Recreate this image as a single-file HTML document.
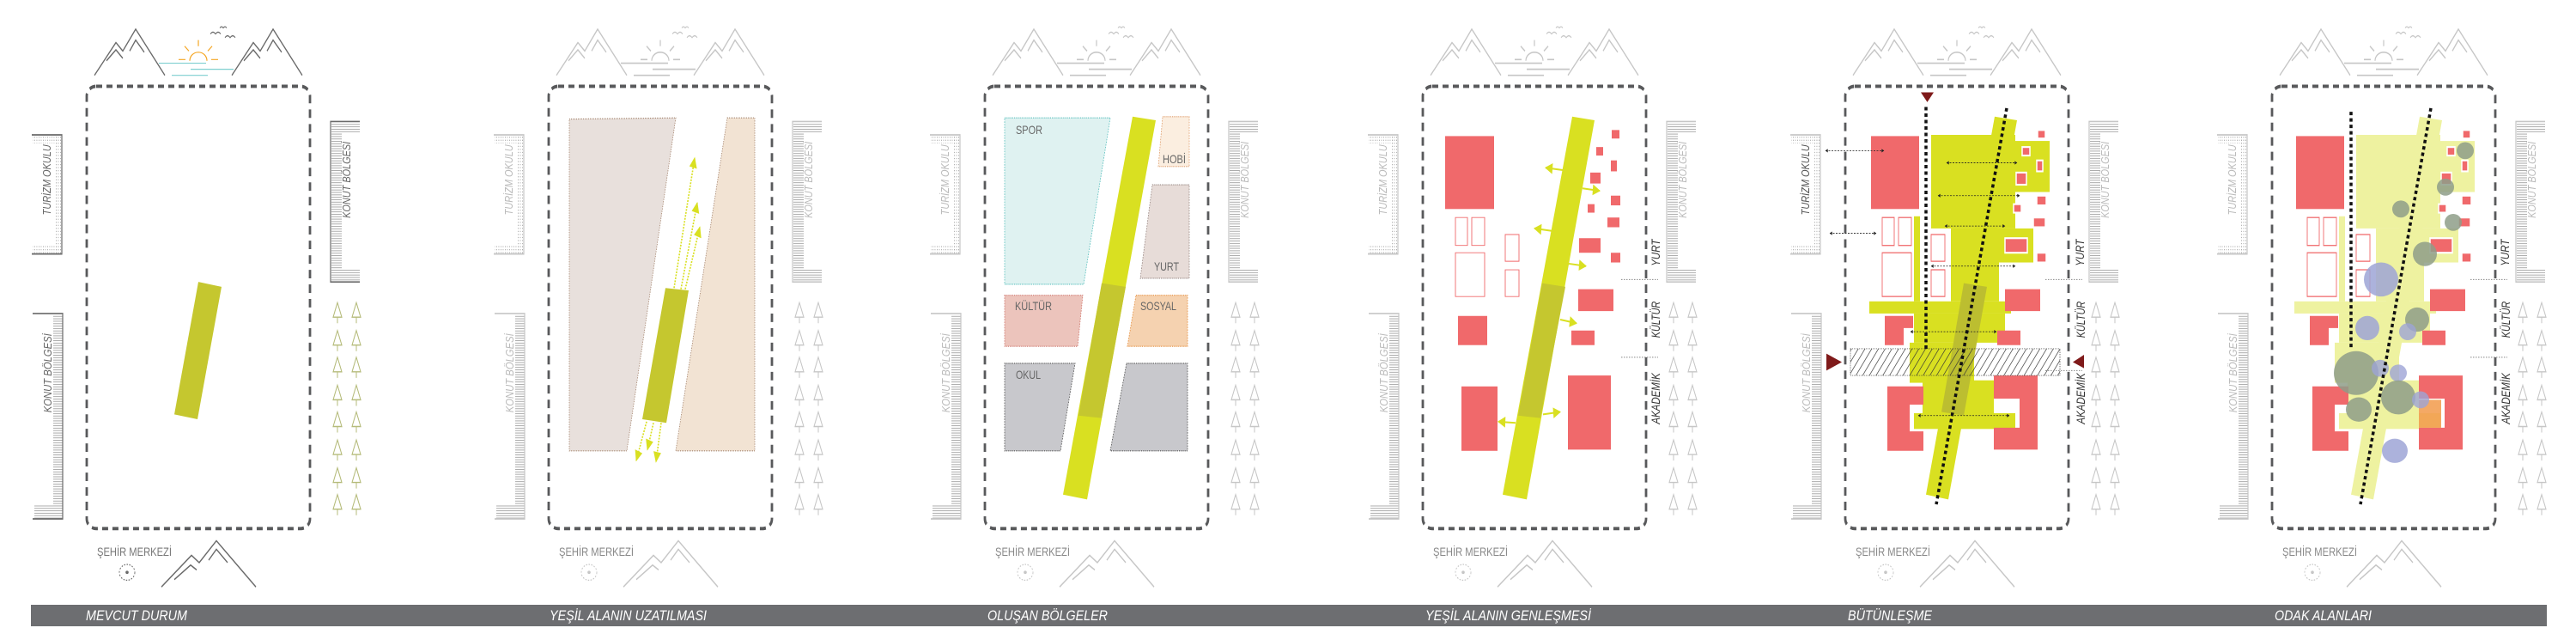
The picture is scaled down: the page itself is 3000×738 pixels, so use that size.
<!DOCTYPE html>
<html><head><meta charset="utf-8"><style>
html,body{margin:0;padding:0;background:#fff;}
svg{display:block;}
text{font-family:"Liberation Sans",sans-serif;}
.sc line,.sc polyline,.sc path,.sc rect,.sc circle{vector-effect:non-scaling-stroke;}
</style></head><body>
<svg width="3000" height="738" viewBox="0 0 3000 738" xmlns="http://www.w3.org/2000/svg">
<defs>
<pattern id="hl" width="3" height="2" patternUnits="userSpaceOnUse"><rect width="3" height="0.7" fill="#aaa"/></pattern>
<pattern id="dots" width="2.5" height="2.5" patternUnits="userSpaceOnUse"><rect width="0.9" height="0.9" fill="#aaa"/></pattern>
<pattern id="diag" width="6" height="6" patternUnits="userSpaceOnUse" patternTransform="rotate(-50)"><rect width="6" height="0.6" fill="#333"/></pattern>
<marker id="ya" viewBox="0 0 10 10" refX="9" refY="5" markerWidth="13" markerHeight="9" markerUnits="userSpaceOnUse" orient="auto"><path d="M0,0 L10,5 L0,10 z" fill="#d9e021"/></marker>
<marker id="ba" viewBox="0 0 10 10" refX="9" refY="5" markerWidth="5" markerHeight="3" markerUnits="userSpaceOnUse" orient="auto-start-reverse"><path d="M0,0 L10,5 L0,10 z" fill="#222"/></marker>
<path id="tr" d="M0,-8 L5,4 L-5,4 Z M0,4 V9" fill="none" stroke="currentColor" stroke-width="1"/>
<g id="c" fill="none" stroke="currentColor" stroke-width="1.2">
 <polyline points="110,62 135,35 143,42 158,24 192,62"/>
 <polyline points="124,50 135,41 143,48"/>
 <polyline points="151,42 158,33 168,43"/>
 <polyline points="270,62 295,35 303,42 318,24 352,62"/>
 <polyline points="284,50 295,41 303,48"/>
 <polyline points="311,42 318,33 328,43"/>
 <polyline points="188,483 223,457 232,463 252,445 298,483"/>
 <polyline points="203,477 222,465 229,469"/>
 <polyline points="243,461 252,452 265,463"/>
 <path d="M245,28 q3,-3 6,0 q3,-3 6,0 M262,31 q3,-3 6,0 q3,-3 6,0 M256,23 q2,-2 4,0 q2,-2 4,0" stroke-width="0.9"/>
 <ellipse cx="148" cy="471" rx="9" ry="6.5" stroke-dasharray="1.5 1.5" stroke-width="0.9"/>
 <ellipse cx="148" cy="471" rx="1.8" ry="1.3" fill="currentColor" stroke="none"/>
 <rect x="38" y="112" width="34" height="6" fill="url(#dots)" stroke="none"/>
 <rect x="64" y="112" width="8" height="97" fill="url(#dots)" stroke="none"/>
 <rect x="38" y="202" width="34" height="7" fill="url(#dots)" stroke="none"/>
 <path d="M37,111 H72 V209 H37"/>
 <rect x="62" y="259" width="11" height="168" fill="url(#hl)" stroke="none"/>
 <rect x="40" y="416" width="22" height="11" fill="url(#hl)" stroke="none"/>
 <path d="M38,258 H73 V427 H38"/>
 <rect x="386" y="101" width="12" height="131" fill="url(#hl)" stroke="none"/>
 <rect x="398" y="101" width="21" height="8" fill="url(#hl)" stroke="none"/>
 <rect x="398" y="222" width="21" height="10" fill="url(#hl)" stroke="none"/>
 <path d="M419,100 H385 V232 H419"/>
</g>
<g id="s" fill="none" stroke="currentColor" stroke-width="1.2">
 <path d="M221,50 A10,7 0 0 1 241,50"/>
 <path d="M231,33 V38 M215,38 L220,42 M247,38 L242,42 M208,49 H216 M246,49 H254"/>
 <path d="M185,52 H240 M222,57 H272 M200,62 H242"/>
</g>
<g id="t">
 <use href="#tr" x="393" y="257"/><use href="#tr" x="415" y="257"/>
 <use href="#tr" x="393" y="280"/><use href="#tr" x="415" y="280"/>
 <use href="#tr" x="393" y="302"/><use href="#tr" x="415" y="302"/>
 <use href="#tr" x="393" y="325"/><use href="#tr" x="415" y="325"/>
 <use href="#tr" x="393" y="347"/><use href="#tr" x="415" y="347"/>
 <use href="#tr" x="393" y="370"/><use href="#tr" x="415" y="370"/>
 <use href="#tr" x="393" y="393"/><use href="#tr" x="415" y="393"/>
 <use href="#tr" x="393" y="415"/><use href="#tr" x="415" y="415"/>
</g>
<rect id="fr" x="101" y="71" width="260" height="364" rx="11" ry="8" fill="none" stroke="#58595b" stroke-width="2.8" stroke-dasharray="7 5"/>
<g id="site">
 <polygon points="2323,96 2349,99 2269,411 2243,407" fill="currentColor"/>
 <rect x="2249" y="111" width="98" height="77" fill="currentColor"/>
 <rect x="2347" y="116" width="40" height="42" fill="currentColor"/>
 <rect x="2328" y="188" width="40" height="28" fill="currentColor"/>
 <rect x="2272" y="188" width="56" height="60" fill="currentColor"/>
 <rect x="2229" y="178" width="7" height="70" fill="currentColor"/>
 <rect x="2177" y="248" width="165" height="10" fill="currentColor"/>
 <rect x="2229" y="258" width="106" height="24" fill="currentColor"/>
 <rect x="2224" y="282" width="75" height="33" fill="currentColor"/>
 <rect x="2239" y="313" width="83" height="29" fill="currentColor"/>
 <rect x="2229" y="340" width="118" height="13" fill="currentColor"/>
 <g fill="#f0696b">
  <rect x="2179" y="112" width="56" height="60"/>
  <polygon points="2195,260 2228,260 2228,270 2217,270 2217,284 2195,284"/>
  <polygon points="2198,318 2240,318 2240,333 2224,333 2224,355 2240,355 2240,371 2198,371"/>
  <polygon points="2322,309 2373,309 2373,370 2322,370 2322,352 2352,352 2352,328 2322,328"/>
  <rect x="2335" y="238" width="41" height="18"/>
  <rect x="2326" y="272" width="27" height="12"/>
  <rect x="2335" y="196" width="26" height="12" stroke="#fff" stroke-width="1.5"/>
  <g stroke="#fff" stroke-width="1.5">
  <rect x="2373" y="107" width="9" height="7"/><rect x="2355" y="121" width="9" height="7"/>
  <rect x="2372" y="132" width="7" height="9"/><rect x="2348" y="142" width="12" height="10"/>
  <rect x="2372" y="161" width="11" height="8"/><rect x="2345" y="168" width="9" height="7"/>
  <rect x="2368" y="179" width="14" height="8"/><rect x="2372" y="208" width="11" height="8"/>
  </g>
 </g>
 <g fill="#fff" stroke="#f0696b" stroke-width="0.9">
  <rect x="2192" y="179" width="14" height="23"/><rect x="2211" y="179" width="15" height="23"/>
  <rect x="2192" y="208" width="34" height="36"/>
  <rect x="2249" y="193" width="16" height="22"/><rect x="2249" y="222" width="16" height="22"/>
 </g>
</g>
</defs>

<!-- bottom bar -->
<rect x="36" y="704" width="2930" height="25" fill="#6d6e71"/>
<g font-size="17" font-style="italic" fill="#fff" lengthAdjust="spacingAndGlyphs">
<text x="100" y="722" textLength="118" lengthAdjust="spacingAndGlyphs">MEVCUT DURUM</text>
<text x="640" y="722" textLength="183" lengthAdjust="spacingAndGlyphs">YEŞİL ALANIN UZATILMASI</text>
<text x="1150" y="722" textLength="140" lengthAdjust="spacingAndGlyphs">OLUŞAN BÖLGELER</text>
<text x="1660" y="722" textLength="193" lengthAdjust="spacingAndGlyphs">YEŞİL ALANIN GENLEŞMESİ</text>
<text x="2152" y="722" textLength="98" lengthAdjust="spacingAndGlyphs">BÜTÜNLEŞME</text>
<text x="2649" y="722" textLength="113" lengthAdjust="spacingAndGlyphs">ODAK ALANLARI</text>
</g>

<g class="sc" transform="scale(1,1.4145)">
<!-- common per panel -->
<use href="#c" style="color:#6a6a6a"/>
<use href="#t" style="color:#b5bb7a"/>
<g fill="none" stroke-width="1.2">
 <path d="M221,50 A10,7 0 0 1 241,50 M231,33 V38 M215,38 L220,42 M247,38 L242,42 M208,49 H216 M246,49 H254" stroke="#f5a623"/>
 <path d="M185,52 H240 M222,57 H272 M200,62 H242" stroke="#7fcfd0"/>
</g>
<g style="color:#c6c6c6">
<use href="#c" x="538"/><use href="#t" x="538"/><use href="#s" x="538"/>
<use href="#c" x="1046"/><use href="#t" x="1046"/><use href="#s" x="1046"/>
<use href="#c" x="1556"/><use href="#t" x="1556"/><use href="#s" x="1556"/>
<use href="#c" x="2048"/><use href="#t" x="2048"/><use href="#s" x="2048"/>
<use href="#c" x="2545"/><use href="#t" x="2545"/><use href="#s" x="2545"/>
</g>
<use href="#fr"/><use href="#fr" x="538"/><use href="#fr" x="1046"/><use href="#fr" x="1556"/><use href="#fr" x="2048"/><use href="#fr" x="2545"/>

<!-- side texts -->
<g font-size="13" font-style="italic" text-anchor="middle">
 <text transform="translate(59,148) rotate(-90)" fill="#666" textLength="58" lengthAdjust="spacingAndGlyphs">TURİZM OKULU</text>
 <text transform="translate(60,307) rotate(-90)" fill="#666" textLength="65" lengthAdjust="spacingAndGlyphs">KONUT BÖLGESİ</text>
 <text transform="translate(408,148) rotate(-90)" fill="#666" textLength="63" lengthAdjust="spacingAndGlyphs">KONUT BÖLGESİ</text>
 <text transform="translate(597,148) rotate(-90)" fill="#bbb" textLength="58" lengthAdjust="spacingAndGlyphs">TURİZM OKULU</text>
 <text transform="translate(598,307) rotate(-90)" fill="#bbb" textLength="65" lengthAdjust="spacingAndGlyphs">KONUT BÖLGESİ</text>
 <text transform="translate(946,148) rotate(-90)" fill="#bbb" textLength="63" lengthAdjust="spacingAndGlyphs">KONUT BÖLGESİ</text>
 <text transform="translate(1105,148) rotate(-90)" fill="#bbb" textLength="58" lengthAdjust="spacingAndGlyphs">TURİZM OKULU</text>
 <text transform="translate(1106,307) rotate(-90)" fill="#bbb" textLength="65" lengthAdjust="spacingAndGlyphs">KONUT BÖLGESİ</text>
 <text transform="translate(1454,148) rotate(-90)" fill="#bbb" textLength="63" lengthAdjust="spacingAndGlyphs">KONUT BÖLGESİ</text>
 <text transform="translate(1615,148) rotate(-90)" fill="#bbb" textLength="58" lengthAdjust="spacingAndGlyphs">TURİZM OKULU</text>
 <text transform="translate(1616,307) rotate(-90)" fill="#bbb" textLength="65" lengthAdjust="spacingAndGlyphs">KONUT BÖLGESİ</text>
 <text transform="translate(1964,148) rotate(-90)" fill="#bbb" textLength="63" lengthAdjust="spacingAndGlyphs">KONUT BÖLGESİ</text>
 <text transform="translate(2107,148) rotate(-90)" fill="#555" textLength="58" lengthAdjust="spacingAndGlyphs">TURİZM OKULU</text>
 <text transform="translate(2108,307) rotate(-90)" fill="#bbb" textLength="65" lengthAdjust="spacingAndGlyphs">KONUT BÖLGESİ</text>
 <text transform="translate(2456,148) rotate(-90)" fill="#bbb" textLength="63" lengthAdjust="spacingAndGlyphs">KONUT BÖLGESİ</text>
 <text transform="translate(2604,148) rotate(-90)" fill="#bbb" textLength="58" lengthAdjust="spacingAndGlyphs">TURİZM OKULU</text>
 <text transform="translate(2605,307) rotate(-90)" fill="#bbb" textLength="65" lengthAdjust="spacingAndGlyphs">KONUT BÖLGESİ</text>
 <text transform="translate(2953,148) rotate(-90)" fill="#bbb" textLength="63" lengthAdjust="spacingAndGlyphs">KONUT BÖLGESİ</text>
</g>

<!-- P1 -->
<polygon points="231,232 258,236 230,345 203,341" fill="#c5c72f"/>

<!-- P2 -->
<polygon points="663,98 787,97 730,371 663,371" fill="#e8e0dc" stroke="#a5856f" stroke-width="0.8" stroke-dasharray="1 1"/>
<polygon points="847,97 879,97 879,371 787,371" fill="#f2e3d3" stroke="#a5856f" stroke-width="0.8" stroke-dasharray="1 1"/>
<polygon points="775,237 802,239 776,348 748,345" fill="#c5c72f"/>
<g stroke="#d9e021" stroke-width="1.6" stroke-dasharray="2 1.5" fill="none">
 <line x1="785" y1="237" x2="809" y2="130" marker-end="url(#ya)"/>
 <line x1="793" y1="238" x2="812" y2="167" marker-end="url(#ya)"/>
 <line x1="798" y1="238" x2="815" y2="187" marker-end="url(#ya)"/>
 <line x1="753" y1="347" x2="741" y2="379" marker-end="url(#ya)"/>
 <line x1="761" y1="348" x2="754" y2="370" marker-end="url(#ya)"/>
 <line x1="770" y1="348" x2="764" y2="380" marker-end="url(#ya)"/>
</g>

<!-- P3 -->
<g stroke-width="0.8" stroke-dasharray="1.2 1">
<polygon points="1170,97 1293,97 1262,234 1170,234" fill="#dff2f1" stroke="#5bc0be"/>
<polygon points="1354,96 1385,96 1385,137 1349,137" fill="#fbeee0" stroke="#e0a070"/>
<polygon points="1342,152 1385,152 1385,229 1328,229" fill="#e7dcd8" stroke="#9a8a86"/>
<polygon points="1170,243 1261,243 1255,285 1170,285" fill="#ecc4bc" stroke="#d07a70"/>
<polygon points="1323,243 1383,243 1383,285 1313,285" fill="#f5d2b0" stroke="#e69040"/>
<polygon points="1170,299 1252,299 1235,371 1170,371" fill="#c8c8cc" stroke="#555"/>
<polygon points="1312,299 1383,299 1383,371 1293,371" fill="#c8c8cc" stroke="#555"/>
</g>
<polygon points="1319,96 1346,99 1266,411 1238,407" fill="#d9e021"/>
<polygon points="1283,233 1311,236 1283,344 1256,342" fill="#c5c72f"/>

<!-- P4 -->
<polygon points="1831,96 1857,99 1778,411 1750,407" fill="#d9e021"/>
<polygon points="1796,233 1823,236 1794,344 1768,342" fill="#c5c72f"/>
<g fill="#f0696b">
 <rect x="1683" y="112" width="57" height="60"/>
 <rect x="1698" y="260" width="34" height="24"/>
 <rect x="1702" y="318" width="42" height="53"/>
 <rect x="1826" y="309" width="50" height="61"/>
 <rect x="1838" y="238" width="41" height="18"/>
 <rect x="1830" y="272" width="27" height="12"/>
 <rect x="1839" y="196" width="25" height="12"/>
 <rect x="1877" y="107" width="9" height="7"/><rect x="1859" y="121" width="8" height="7"/>
 <rect x="1876" y="132" width="7" height="9"/><rect x="1852" y="142" width="12" height="9"/>
 <rect x="1876" y="161" width="11" height="8"/><rect x="1849" y="168" width="8" height="7"/>
 <rect x="1872" y="179" width="14" height="8"/><rect x="1876" y="208" width="11" height="8"/>
</g>
<g fill="#fff" stroke="#f0696b" stroke-width="0.9">
 <rect x="1695" y="179" width="14" height="23"/><rect x="1714" y="179" width="15" height="23"/>
 <rect x="1695" y="208" width="34" height="36"/>
 <rect x="1753" y="193" width="16" height="22"/><rect x="1753" y="222" width="16" height="22"/>
</g>
<g stroke="#d9e021" stroke-width="2" fill="none">
 <line x1="1820" y1="140" x2="1800" y2="138" marker-end="url(#ya)"/>
 <line x1="1843" y1="155" x2="1863" y2="157" marker-end="url(#ya)"/>
 <line x1="1807" y1="190" x2="1787" y2="188" marker-end="url(#ya)"/>
 <line x1="1827" y1="217" x2="1847" y2="219" marker-end="url(#ya)"/>
 <line x1="1817" y1="263" x2="1836" y2="266" marker-end="url(#ya)"/>
 <line x1="1765" y1="348" x2="1745" y2="347" marker-end="url(#ya)"/>
 <line x1="1797" y1="341" x2="1817" y2="339" marker-end="url(#ya)"/>
</g>

<!-- P5 -->
<use href="#site" style="color:#d9e021"/>
<polygon points="2287,233 2314,236 2287,342 2261,339" fill="#a8a63a" opacity="0.6"/>
<rect x="2155" y="287" width="244" height="22" fill="url(#diag)" stroke="#333" stroke-width="0.7" stroke-dasharray="1 1"/>
<g stroke="#111" stroke-width="3.5" stroke-dasharray="4 3.5" fill="none">
 <line x1="2243" y1="88" x2="2243" y2="287"/>
 <line x1="2337" y1="89" x2="2255" y2="415"/>
</g>
<g stroke="#222" stroke-width="0.8" stroke-dasharray="2 1.5">
 <line x1="2126" y1="124" x2="2194" y2="124" marker-start="url(#ba)" marker-end="url(#ba)"/>
 <line x1="2131" y1="192" x2="2185" y2="192" marker-start="url(#ba)" marker-end="url(#ba)"/>
 <line x1="2267" y1="134" x2="2349" y2="134" marker-start="url(#ba)" marker-end="url(#ba)"/>
 <line x1="2257" y1="161" x2="2352" y2="161" marker-start="url(#ba)" marker-end="url(#ba)"/>
 <line x1="2265" y1="186" x2="2335" y2="186" marker-start="url(#ba)" marker-end="url(#ba)"/>
 <line x1="2249" y1="219" x2="2347" y2="219" marker-start="url(#ba)" marker-end="url(#ba)"/>
 <line x1="2225" y1="273" x2="2325" y2="273" marker-start="url(#ba)" marker-end="url(#ba)"/>
 <line x1="2234" y1="342" x2="2340" y2="342" marker-start="url(#ba)" marker-end="url(#ba)"/>
</g>
<g fill="#7f1a1a">
 <polygon points="2237,76 2252,76 2244.5,84"/>
 <polygon points="2127,291 2127,305 2145,298"/>
 <polygon points="2427,292 2427,303 2414,298"/>
</g>

<!-- P6 -->
<g transform="translate(495,0)"><use href="#site" style="color:#eef2a0"/></g>
<g>
 <ellipse cx="2871" cy="124" rx="10" ry="7" fill="#8e9e88" opacity="0.85"/>
 <ellipse cx="2848" cy="154" rx="10" ry="7" fill="#8e9e88" opacity="0.85"/>
 <ellipse cx="2796" cy="172" rx="10" ry="7" fill="#8e9e88" opacity="0.85"/>
 <ellipse cx="2857" cy="183" rx="10" ry="7" fill="#8e9e88" opacity="0.85"/>
 <ellipse cx="2824" cy="209" rx="14" ry="10" fill="#8e9e88" opacity="0.85"/>
 <ellipse cx="2773" cy="230" rx="20" ry="14" fill="#9ea4d6" opacity="0.85"/>
 <ellipse cx="2757" cy="270" rx="14" ry="10" fill="#9ea4d6" opacity="0.85"/>
 <ellipse cx="2815" cy="263" rx="14" ry="10" fill="#8e9e88" opacity="0.85"/>
 <ellipse cx="2804" cy="273" rx="10" ry="7" fill="#9ea4d6" opacity="0.8"/>
 <ellipse cx="2744" cy="307" rx="26" ry="18" fill="#8e9e88" opacity="0.85"/>
 <ellipse cx="2772" cy="303" rx="10" ry="7" fill="#9ea4d6" opacity="0.8"/>
 <ellipse cx="2793" cy="307" rx="10" ry="7" fill="#9ea4d6" opacity="0.8"/>
 <ellipse cx="2793" cy="327" rx="20" ry="14" fill="#8e9e88" opacity="0.85"/>
 <ellipse cx="2747" cy="337" rx="15" ry="10" fill="#8e9e88" opacity="0.85"/>
 <rect x="2817" y="329" width="26" height="23" fill="#f29a4a" opacity="0.85"/>
 <ellipse cx="2819" cy="329" rx="10" ry="7" fill="#9ea4d6" opacity="0.8"/>
 <ellipse cx="2789" cy="371" rx="15" ry="10" fill="#9ea4d6" opacity="0.85"/>
</g>
<g stroke="#111" stroke-width="3.5" stroke-dasharray="4 3.5" fill="none">
 <line x1="2738" y1="92" x2="2738" y2="287"/>
 <line x1="2831" y1="89" x2="2749" y2="415"/>
</g>

<!-- zone labels P4-P6 -->
<g stroke="#888" stroke-width="1" stroke-dasharray="1.5 1.5">
 <line x1="1888" y1="230" x2="1931" y2="230"/><line x1="1888" y1="294" x2="1931" y2="294"/>
 <line x1="2382" y1="230" x2="2425" y2="230"/><line x1="2382" y1="305" x2="2425" y2="305"/>
 <line x1="2877" y1="230" x2="2920" y2="230"/><line x1="2877" y1="294" x2="2920" y2="294"/>
</g>
<g font-size="14" font-style="italic" fill="#333" text-anchor="middle">
 <text transform="translate(1933,208) rotate(-90)" textLength="22" lengthAdjust="spacingAndGlyphs">YURT</text>
 <text transform="translate(1933,263) rotate(-90)" textLength="30" lengthAdjust="spacingAndGlyphs">KÜLTÜR</text>
 <text transform="translate(1933,328) rotate(-90)" textLength="42" lengthAdjust="spacingAndGlyphs">AKADEMİK</text>
 <text transform="translate(2427,208) rotate(-90)" textLength="22" lengthAdjust="spacingAndGlyphs">YURT</text>
 <text transform="translate(2428,263) rotate(-90)" textLength="30" lengthAdjust="spacingAndGlyphs">KÜLTÜR</text>
 <text transform="translate(2428,328) rotate(-90)" textLength="42" lengthAdjust="spacingAndGlyphs">AKADEMİK</text>
 <text transform="translate(2922,208) rotate(-90)" textLength="22" lengthAdjust="spacingAndGlyphs">YURT</text>
 <text transform="translate(2923,263) rotate(-90)" textLength="30" lengthAdjust="spacingAndGlyphs">KÜLTÜR</text>
 <text transform="translate(2923,328) rotate(-90)" textLength="42" lengthAdjust="spacingAndGlyphs">AKADEMİK</text>
</g>
</g>

<!-- horizontal texts (unscaled) -->
<g font-size="14" fill="#888">
 <text x="113" y="647" fill="#777" textLength="87" lengthAdjust="spacingAndGlyphs">ŞEHİR MERKEZİ</text>
 <text x="651" y="647" textLength="87" lengthAdjust="spacingAndGlyphs">ŞEHİR MERKEZİ</text>
 <text x="1159" y="647" textLength="87" lengthAdjust="spacingAndGlyphs">ŞEHİR MERKEZİ</text>
 <text x="1669" y="647" textLength="87" lengthAdjust="spacingAndGlyphs">ŞEHİR MERKEZİ</text>
 <text x="2161" y="647" textLength="87" lengthAdjust="spacingAndGlyphs">ŞEHİR MERKEZİ</text>
 <text x="2658" y="647" textLength="87" lengthAdjust="spacingAndGlyphs">ŞEHİR MERKEZİ</text>
</g>
<g font-size="14" fill="#666">
 <text x="1183" y="156" textLength="31" lengthAdjust="spacingAndGlyphs">SPOR</text>
 <text x="1354" y="190" textLength="27" lengthAdjust="spacingAndGlyphs">HOBİ</text>
 <text x="1344" y="315" textLength="29" lengthAdjust="spacingAndGlyphs">YURT</text>
 <text x="1182" y="361" textLength="43" lengthAdjust="spacingAndGlyphs">KÜLTÜR</text>
 <text x="1328" y="361" textLength="42" lengthAdjust="spacingAndGlyphs">SOSYAL</text>
 <text x="1183" y="441" textLength="29" lengthAdjust="spacingAndGlyphs">OKUL</text>
</g>
</svg>
</body></html>
